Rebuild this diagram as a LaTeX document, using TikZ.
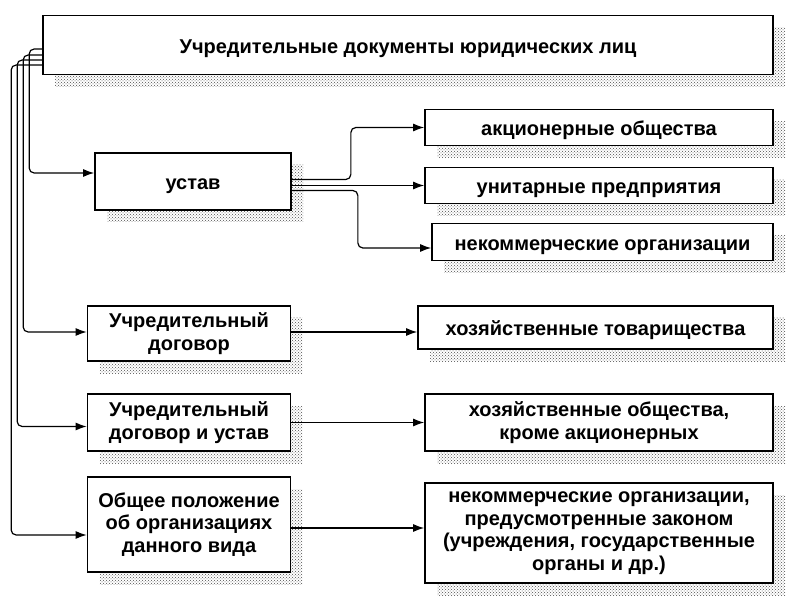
\documentclass[tikz,border=0pt]{standalone}
\usepackage{fontspec}
\setmainfont{Liberation Sans}
\usetikzlibrary{arrows.meta, positioning, calc, patterns}

\begin{document}
\begin{tikzpicture}[x=1pt, y=-1pt,
  docbox/.style={draw, line width=1.7pt, fill=white, align=center, inner sep=2pt,
    font=\fontsize{20}{22.5}\selectfont\bfseries,
    execute at begin node={\rule{0pt}{21pt}},
    preaction={draw=none, fill=none, pattern=crosshatch dots, pattern color=black!70,
      transform canvas={shift={(12pt,-12pt)}}}},
  link/.style={line width=1.2pt, rounded corners=5pt, -{Latex[length=11pt, width=8pt]}}]
  \useasboundingbox (0,0) rectangle (800,609);

  % Top box
  \node[docbox, minimum width=730pt, minimum height=59pt] (title) at (408,45) {Учредительные документы юридических лиц};

  % Left column
  \node[docbox, minimum width=196pt, minimum height=57pt] (ustav) at (193,181.5) {устав};
  \node[docbox, minimum width=203pt, minimum height=55pt] (uchdog) at (189,333.5) {Учредительный\\договор};
  \node[docbox, minimum width=203pt, minimum height=57pt] (uchdogust) at (189,422.5) {Учредительный\\договор и устав};
  \node[docbox, minimum width=203pt, minimum height=95pt] (obsh) at (189,524.5) {Общее положение\\об организациях\\данного вида};

  % Right column
  \node[docbox, minimum width=348pt, minimum height=36pt] (ao) at (599,127.5) {акционерные общества};
  \node[docbox, minimum width=348pt, minimum height=36pt] (up) at (599,185.5) {унитарные предприятия};
  \node[docbox, minimum width=341pt, minimum height=37pt] (nko) at (602.5,242) {некоммерческие организации};
  \node[docbox, minimum width=355pt, minimum height=43pt] (ht) at (595.5,327.5) {хозяйственные товарищества};
  \node[docbox, minimum width=348pt, minimum height=57pt] (ho) at (599,422.5) {хозяйственные общества,\\кроме акционерных};
  \node[docbox, minimum width=348pt, minimum height=100pt] (nkoz) at (599,533) {некоммерческие организации,\\предусмотренные законом\\(учреждения, государственные\\органы и др.)};

  % Lines from the top box
  \draw[link] ([yshift=-4pt]title.west) -- ++(-13,0) |- ($(ustav.west)+(0,-8.5)$);
  \draw[link] ([yshift=-10pt]title.west) -- ++(-19,0) |- ($(uchdog.west)+(0,-1.5)$);
  \draw[link] ([yshift=-15pt]title.west) -- ++(-25,0) |- ($(uchdogust.west)+(0,4)$);
  \draw[link] ([yshift=-20pt]title.west) -- ++(-31,0) |- ($(obsh.west)+(0,10.5)$);

  % Branches of the charter
  \draw[link] ($(ustav.east)+(0,-2)$) -- ++(59,0) |- (ao.west);
  \draw[link] (ustav.east |- up.west) -- (up.west);
  \draw[link] ($(ustav.east)+(0,9)$) -- ++(66,0) |- ($(nko.west)+(0,6)$);

  % Other documents
  \draw[link] ($(uchdog.east)+(0,-1.5)$) -- ($(ht.west)+(0,4.5)$);
  \draw[link] (ho.west -| uchdogust.east) -- (ho.west);
  \draw[link] ($(obsh.east)+(0,3.5)$) -- ($(nkoz.west)+(0,-5)$);
\end{tikzpicture}
\end{document}
